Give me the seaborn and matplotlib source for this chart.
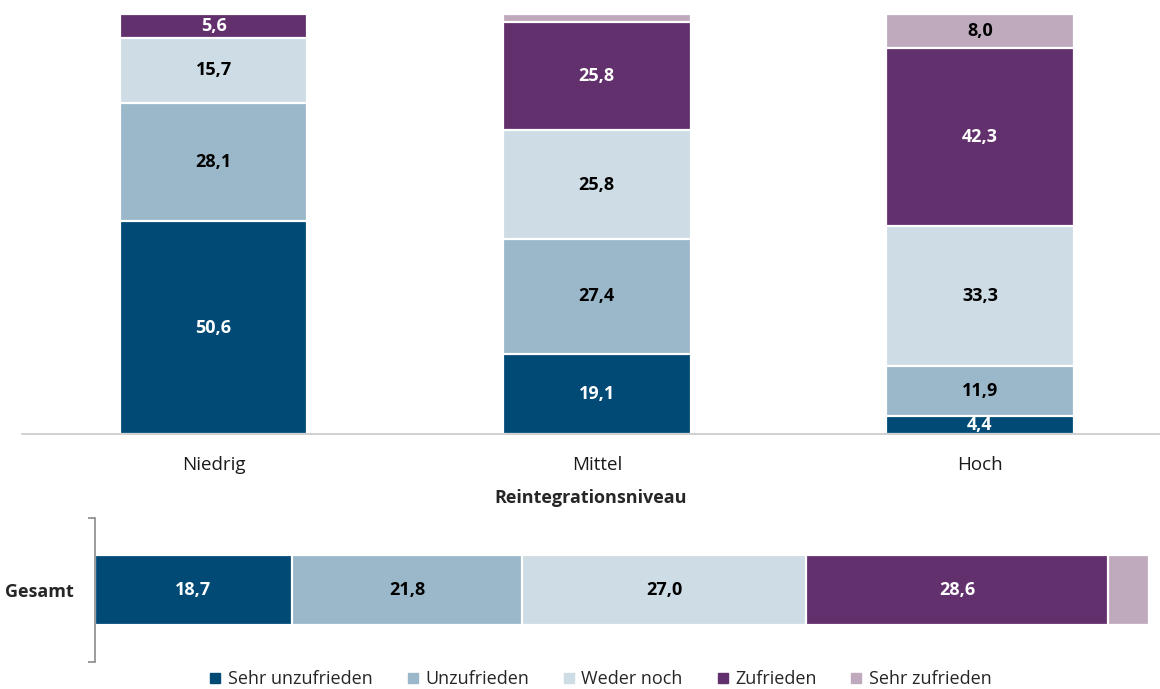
import matplotlib
matplotlib.use("Agg")
import matplotlib.pyplot as plt
from matplotlib.lines import Line2D
import numpy as np
import pandas as pd
import seaborn as sns

sns.set_theme(style="white")
plt.rcParams["font.family"] = ["Open Sans", "DejaVu Sans"]

# Satisfaction by reintegration level (percent)
levels = ["Niedrig", "Mittel", "Hoch"]
categories = ["Sehr unzufrieden", "Unzufrieden", "Weder noch", "Zufrieden", "Sehr zufrieden"]
sehr_unzufrieden = [50.6, 19.1, 4.4]
unzufrieden = [28.1, 27.4, 11.9]
weder_noch = [15.7, 25.8, 33.3]
zufrieden = [5.6, 25.8, 42.3]
sehr_zufrieden = [0.0, 1.9, 8.0]

# Overall distribution (percent)
gesamt_label = "Gesamt"
gesamt = [18.7, 21.8, 27.0, 28.6, 3.9]

colors = ["#004A75", "#9BB8CA", "#CEDCE5", "#62306D", "#BFAABD"]
text_colors = ["white", "black", "black", "white", "black"]
min_label = 4.0

series = [sehr_unzufrieden, unzufrieden, weder_noch, zufrieden, sehr_zufrieden]

fig = plt.figure(figsize=(11.6, 6.89), dpi=100)

# ---- Stacked columns per level ----
ax = fig.add_axes([0.019, 0.3701, 0.981, 0.6096])
vals = np.array(series)           # shape (5, 3)
cum = np.cumsum(vals, axis=0)
for k in range(len(categories) - 1, -1, -1):
    df = pd.DataFrame({"level": levels, "value": cum[k]})
    sns.barplot(data=df, x="level", y="value", order=levels, color=colors[k],
                width=0.49, edgecolor="white", linewidth=1.6, saturation=1,
                ax=ax, errorbar=None)
for k in range(len(categories)):
    for i in range(len(levels)):
        v = vals[k, i]
        if v >= min_label:
            ax.text(i, cum[k, i] - v / 2, f"{v:.1f}".replace(".", ","),
                    ha="center", va="center", fontsize=13, fontweight="bold",
                    color=text_colors[k])
ax.set_xlim(-0.5, 2.47)
ax.set_ylim(0, 100)
ax.set_yticks([])
ax.set_ylabel("")
ax.set_xlabel("Reintegrationsniveau", fontsize=13, fontweight="bold", labelpad=11)
ax.tick_params(axis="x", length=0, pad=15.5, labelsize=13.5, colors="#1a1a1a")
for s in ["top", "left", "right"]:
    ax.spines[s].set_visible(False)
ax.spines["bottom"].set_color("#c8c8c8")
ax.spines["bottom"].set_linewidth(1.2)

# ---- Overall horizontal stacked bar ----
ax2 = fig.add_axes([95 / 1160, 0.0392, 1054 / 1160, 0.209])
gcum = np.cumsum(gesamt)
for k in range(len(categories) - 1, -1, -1):
    df = pd.DataFrame({"group": [gesamt_label], "value": [gcum[k]]})
    sns.barplot(data=df, x="value", y="group", orient="h", color=colors[k],
                width=0.486, edgecolor="white", linewidth=1.6, saturation=1,
                ax=ax2, errorbar=None)
for k, v in enumerate(gesamt):
    if v >= min_label:
        ax2.text(gcum[k] - v / 2, 0, f"{v:.1f}".replace(".", ","),
                 ha="center", va="center", fontsize=13, fontweight="bold",
                 color=text_colors[k])
ax2.set_xlim(0, 100)
ax2.set_ylim(0.5, -0.5)
ax2.set_xticks([])
ax2.set_xlabel("")
ax2.set_ylabel("")
ax2.set_yticks([-0.5, 0.5], minor=True)
ax2.tick_params(axis="y", which="major", length=0, pad=15, labelsize=13)
ax2.tick_params(axis="y", which="minor", length=5, width=1.2, color="#8a8a8a", left=True)
for lab in ax2.get_yticklabels():
    lab.set_fontweight("bold")
for s in ["top", "right", "bottom"]:
    ax2.spines[s].set_visible(False)
ax2.spines["left"].set_color("#8a8a8a")
ax2.spines["left"].set_linewidth(1.2)

# ---- Legend ----
handles = [Line2D([0], [0], marker="s", linestyle="", markersize=7,
                  markerfacecolor=c, markeredgecolor=c) for c in colors]
fig.legend(handles, categories, loc="center", bbox_to_anchor=(0.518, 0.014),
           ncol=5, frameon=False, fontsize=13, handlelength=0.6,
           handletextpad=0.4, columnspacing=1.9)

fig.savefig("out.png", dpi=100)
